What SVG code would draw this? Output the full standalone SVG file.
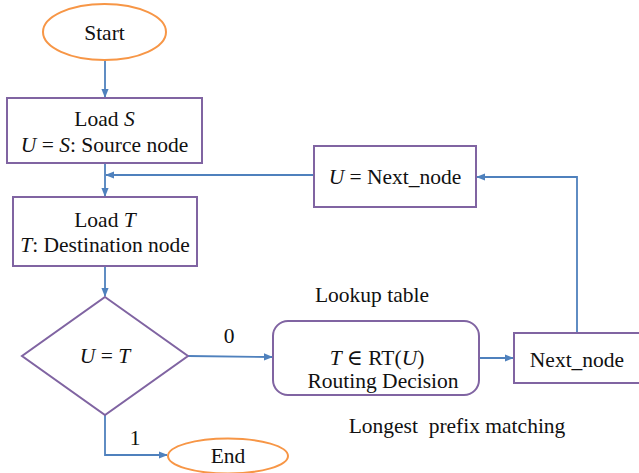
<svg xmlns="http://www.w3.org/2000/svg" width="639" height="473" viewBox="0 0 639 473">
  <style>
    text { font-family: 'Liberation Serif', 'DejaVu Serif', serif; font-size: 21.5px; fill: #111; }
    .m { font-style: italic; }
    .term { fill: #fff; stroke: #F79646; stroke-width: 2; }
    .proc { fill: #fff; stroke: #8064A2; stroke-width: 2; }
    .link { fill: none; stroke: #4F81BD; stroke-width: 1.8; marker-end: url(#arrow); }
  </style>
  <defs>
    <marker id="arrow" viewBox="0 0 10 10" refX="9" refY="5" markerWidth="5" markerHeight="5" orient="auto" markerUnits="strokeWidth">
      <path d="M0,1 L10,5 L0,9 z" fill="#4F81BD"/>
    </marker>
  </defs>
  <rect width="639" height="473" fill="#fff"/>

  <g id="connectors">
    <path class="link" d="M105,60 L105,97"/>
    <path class="link" d="M105,163 L105,196"/>
    <path class="link" d="M314,175 L106,175"/>
    <path class="link" d="M105,266 L105,296"/>
    <path class="link" d="M188,356 L272,357"/>
    <path class="link" d="M479,358 L513,358"/>
    <path class="link" d="M577,333 L577,177 L477,177"/>
    <path class="link" d="M105,415 L105,455 L167,455"/>
  </g>

  <g font-family="Liberation Serif, DejaVu Serif, serif">
    <g id="start">
      <ellipse class="term" cx="104.5" cy="32" rx="61.5" ry="28"/>
      <text x="104.5" y="40" text-anchor="middle">Start</text>
    </g>

    <g id="load-s">
      <rect class="proc" x="7" y="98" width="195" height="65"/>
      <text x="104.5" y="126" text-anchor="middle">Load <tspan class="m">S</tspan></text>
      <text x="104.5" y="152" text-anchor="middle"><tspan class="m">U</tspan> = <tspan class="m">S</tspan>: Source node</text>
    </g>

    <g id="next-node-assign">
      <rect class="proc" x="314" y="146" width="162" height="61"/>
      <text x="395" y="184" text-anchor="middle"><tspan class="m">U</tspan> = Next_node</text>
    </g>

    <g id="load-t">
      <rect class="proc" x="13" y="197" width="184" height="69"/>
      <text x="105" y="227" text-anchor="middle">Load <tspan class="m">T</tspan></text>
      <text x="105" y="252" text-anchor="middle"><tspan class="m">T</tspan>: Destination node</text>
    </g>

    <g id="decision">
      <polygon class="proc" points="105,297 188,356 105,415 22,356"/>
      <text x="105" y="363" text-anchor="middle"><tspan class="m">U</tspan> = <tspan class="m">T</tspan></text>
      <text x="229" y="343" text-anchor="middle">0</text>
      <text x="135" y="445" text-anchor="middle">1</text>
    </g>

    <g id="routing">
      <text x="372" y="302" text-anchor="middle">Lookup table</text>
      <rect class="proc" x="273" y="321" width="206" height="74" rx="15"/>
      <text x="377" y="365" text-anchor="middle"><tspan class="m">T</tspan> ∈ RT(<tspan class="m">U</tspan>)</text>
      <text x="383" y="388" text-anchor="middle">Routing Decision</text>
      <text x="457" y="433" text-anchor="middle" xml:space="preserve">Longest  prefix matching</text>
    </g>

    <g id="next-node">
      <rect class="proc" x="514" y="333" width="130" height="50"/>
      <text x="577" y="367" text-anchor="middle">Next_node</text>
    </g>

    <g id="end">
      <ellipse class="term" cx="228" cy="456" rx="60" ry="17.5"/>
      <text x="228" y="463" text-anchor="middle">End</text>
    </g>
  </g>
</svg>
